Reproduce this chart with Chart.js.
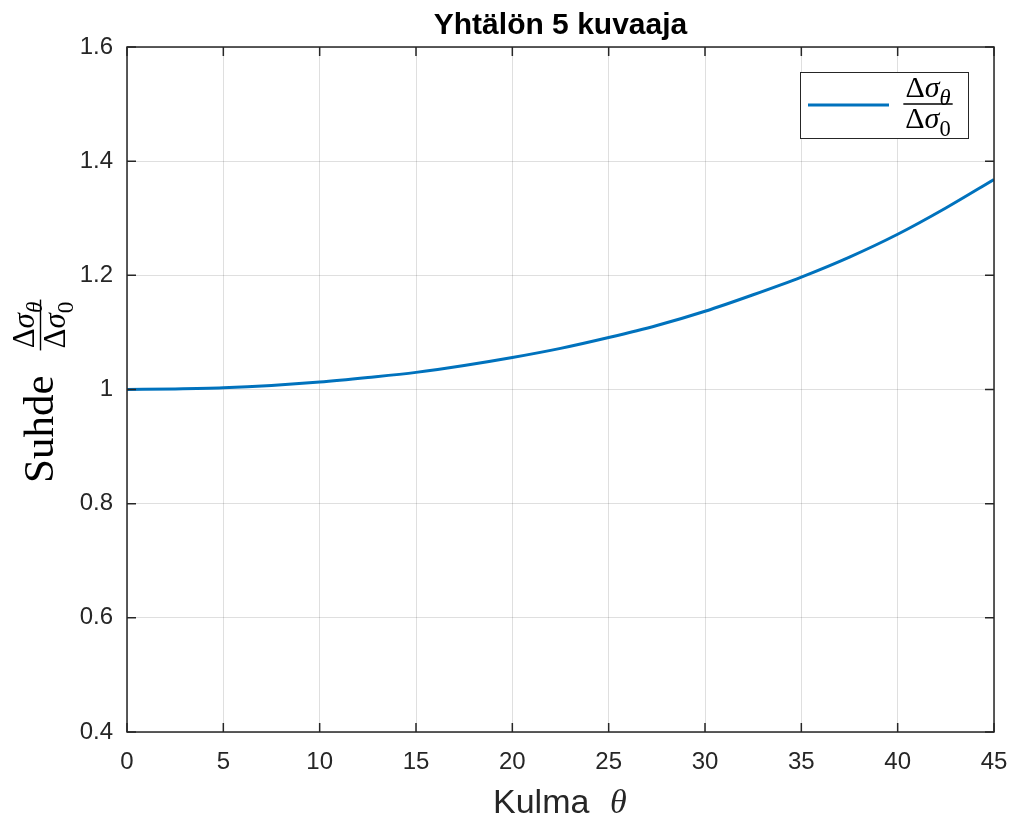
<!DOCTYPE html>
<html>
<head>
<meta charset="utf-8">
<script src="https://cdn.jsdelivr.net/npm/chart.js@4"></script>
<style>
  html, body { margin: 0; padding: 0; background: #fff; }
  #chart { display: block; }
</style>
</head>
<body>
<canvas id="chart" width="1013" height="818"></canvas>
<script>
// angle theta (deg) and the ratio
const angles = [0, 2.5, 5, 7.5, 10, 12.5, 15, 17.5, 20, 22.5, 25, 27.5, 30, 32.5, 35, 37.5, 40, 42.5, 45];
const ratio = [1.000, 1.001, 1.003, 1.007, 1.013, 1.021, 1.030, 1.042, 1.056, 1.072, 1.091, 1.112, 1.137, 1.166, 1.197, 1.232, 1.272, 1.318, 1.368];
const xTicks = [0, 5, 10, 15, 20, 25, 30, 35, 40, 45];
const yTicks = [0.4, 0.6, 0.8, 1.0, 1.2, 1.4, 1.6];

const SANS = "'Liberation Sans', Arial, sans-serif";
const SERIF = "'Liberation Serif', 'DejaVu Serif', serif";
const AXIS = '#262626';
const BLUE = '#0072BD';

/**
 * draws  Δσ_θ / Δσ_0  centred on cx, with the fraction bar at ly
 */
function drawFrac(ctx, cx, ly, size) {
    const sub = size * 0.75;
    const parts = (last) => [
        { t: 'Δ', f: `${size}px ${SERIF}`, dy: 0 },
        { t: 'σ', f: `italic ${size}px ${SERIF}`, dy: 0 },
        { t: last, f: (last === '0' ? '' : 'italic ') + `${sub}px ${SERIF}`, dy: size * 0.26 }
    ];
    const width = (ps) => ps.reduce((w, p) => { ctx.font = p.f; return w + ctx.measureText(p.t).width; }, 0);
    const row = (ps, base) => {
        let x = cx - width(ps) / 2;
        ps.forEach(p => {
            ctx.font = p.f;
            ctx.fillText(p.t, x, base + p.dy);
            x += ctx.measureText(p.t).width;
        });
    };
    const num = parts('θ'), den = parts('0');
    const w = Math.max(width(num), width(den)) + 4;
    ctx.textAlign = 'left';
    ctx.textBaseline = 'alphabetic';
    ctx.fillStyle = '#000';
    row(num, ly - size * 0.22);
    row(den, ly + size * 0.8);
    ctx.strokeStyle = '#000';
    ctx.lineWidth = 1.4;
    ctx.beginPath();
    ctx.moveTo(cx - w / 2, ly);
    ctx.lineTo(cx + w / 2, ly);
    ctx.stroke();
}

// box, inward ticks, title, axis labels and legend, MATLAB style
const decorations = {
    id: 'decorations',
    afterDraw(chart) {
        const { ctx, chartArea: a, scales } = chart;
        const tl = 9;
        ctx.save();
        ctx.strokeStyle = AXIS;
        ctx.lineWidth = 1.5;
        ctx.strokeRect(a.left, a.top, a.right - a.left, a.bottom - a.top);
        ctx.beginPath();
        xTicks.forEach(v => {
            const x = scales.x.getPixelForValue(v);
            ctx.moveTo(x, a.bottom); ctx.lineTo(x, a.bottom - tl);
            ctx.moveTo(x, a.top); ctx.lineTo(x, a.top + tl);
        });
        yTicks.forEach(v => {
            const y = scales.y.getPixelForValue(v);
            ctx.moveTo(a.left, y); ctx.lineTo(a.left + tl, y);
            ctx.moveTo(a.right, y); ctx.lineTo(a.right - tl, y);
        });
        ctx.stroke();

        // title
        ctx.fillStyle = '#000';
        ctx.font = `bold 30px ${SANS}`;
        ctx.textAlign = 'center';
        ctx.textBaseline = 'alphabetic';
        ctx.fillText('Yhtälön 5 kuvaaja', (a.left + a.right) / 2, 34);

        // x label
        ctx.fillStyle = AXIS;
        ctx.font = `34px ${SANS}`;
        ctx.textAlign = 'left';
        ctx.fillText('Kulma', 493, 813);
        ctx.font = `italic 34px ${SERIF}`;
        ctx.fillText('θ', 610, 813);

        // y label, rotated
        ctx.save();
        ctx.translate(53, 483);
        ctx.rotate(-Math.PI / 2);
        ctx.fillStyle = '#000';
        ctx.font = `43px ${SERIF}`;
        ctx.textAlign = 'left';
        ctx.fillText('Suhde', 0, 0);
        drawFrac(ctx, 158, -12.5, 31);
        ctx.restore();

        // legend
        ctx.fillStyle = '#fff';
        ctx.fillRect(800, 72, 168, 66);
        ctx.strokeStyle = AXIS;
        ctx.lineWidth = 1;
        ctx.strokeRect(800.5, 72.5, 168, 66);
        ctx.strokeStyle = BLUE;
        ctx.lineWidth = 3;
        ctx.beginPath();
        ctx.moveTo(808, 105);
        ctx.lineTo(889, 105);
        ctx.stroke();
        drawFrac(ctx, 928, 104, 30);
        ctx.restore();
    }
};

new Chart(document.getElementById('chart'), {
    type: 'line',
    data: {
        datasets: [{
            label: 'Δσθ/Δσ0',
            data: angles.map((a, i) => ({ x: a, y: ratio[i] })),
            borderColor: BLUE,
            borderWidth: 3,
            pointRadius: 0,
            cubicInterpolationMode: 'monotone',
            fill: false
        }]
    },
    options: {
        responsive: false, animation: false, devicePixelRatio: 1,
        layout: { padding: { top: 47, right: 19, left: 0, bottom: 0 } },
        plugins: { legend: { display: false }, title: { display: false }, tooltip: { enabled: false } },
        scales: {
            x: {
                type: 'linear', min: 0, max: 45,
                afterBuildTicks: s => { s.ticks = xTicks.map(v => ({ value: v })); },
                afterFit: s => { s.height = 86; s.paddingLeft = 0; s.paddingRight = 0; },
                ticks: { font: { size: 24, family: SANS }, color: AXIS, padding: 16, maxRotation: 0 },
                grid: { color: 'rgba(38,38,38,0.15)', lineWidth: 1, drawTicks: false },
                border: { display: false }
            },
            y: {
                min: 0.4, max: 1.6,
                afterBuildTicks: s => { s.ticks = yTicks.map(v => ({ value: v })); },
                afterFit: s => { s.width = 127; s.paddingTop = 0; s.paddingBottom = 0; },
                ticks: {
                    font: { size: 24, family: SANS }, color: AXIS, padding: 14,
                    callback: v => String(Number(v.toFixed(1)))
                },
                grid: { color: 'rgba(38,38,38,0.15)', lineWidth: 1, drawTicks: false },
                border: { display: false }
            }
        }
    },
    plugins: [decorations]
});
</script>
</body>
</html>
